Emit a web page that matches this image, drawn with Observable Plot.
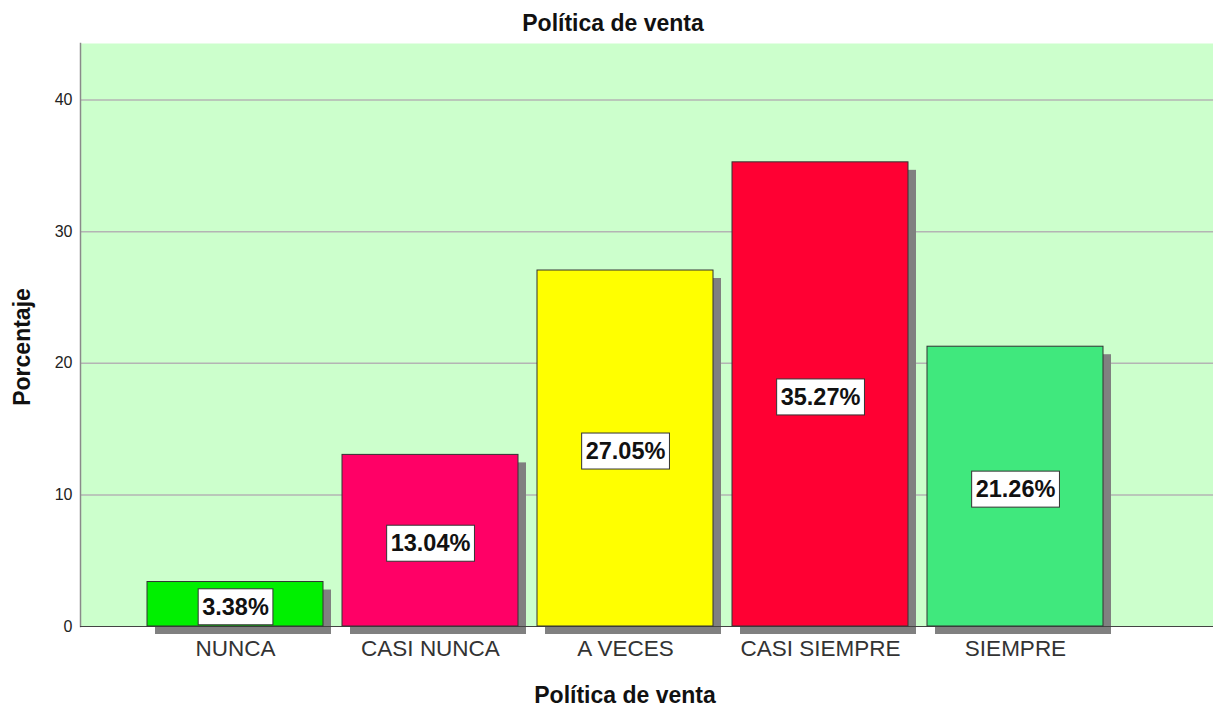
<!DOCTYPE html>
<html>
<head>
<meta charset="utf-8">
<script src="https://cdn.jsdelivr.net/npm/d3@7"></script>
<script src="https://cdn.jsdelivr.net/npm/@observablehq/plot@0.6"></script>
<style>
  html, body { margin: 0; padding: 0; background: #fff; }
</style>
</head>
<body>
<div id="chart"></div>
<script>
const categories = ["NUNCA", "CASI NUNCA", "A VECES", "CASI SIEMPRE", "SIEMPRE"];
const values = [3.38, 13.04, 27.05, 35.27, 21.26];
const valueLabels = ["3.38%", "13.04%", "27.05%", "35.27%", "21.26%"];
const barColors = ["#00f000", "#ff0066", "#ffff00", "#ff0033", "#40e87d"];
const yTicks = [0, 10, 20, 30, 40];
const titleText = "Política de venta";
const xTitle = "Política de venta";
const yTitle = "Porcentaje";

const data = categories.map((c, i) => ({cat: c, value: values[i], label: valueLabels[i]}));

const font = "'Liberation Sans', Arial, sans-serif";

const chart = Plot.plot({
  width: 1213,
  height: 708,
  marginLeft: 80,
  marginRight: 0,
  marginTop: 43,
  marginBottom: 82,
  style: {fontFamily: font, background: "#fff", overflow: "visible"},
  x: {domain: categories, range: [125.4, 1123.7], padding: 0.1, axis: null},
  y: {domain: [0, 44.3], axis: null},
  color: {domain: categories, range: barColors},
  marks: [
    Plot.frame({fill: "#ccffcc", stroke: null}),
    Plot.ruleY(yTicks.slice(1), {stroke: "#b4b4b4", strokeWidth: 1.5}),
    Plot.frame({anchor: "left", stroke: "#8a8a8a", strokeWidth: 1.5}),
    Plot.barY(data, {x: "cat", y: "value", fill: "#808080", dx: 8, dy: 8}),
    Plot.ruleY([0], {stroke: "#444", strokeWidth: 1.2}),
    Plot.barY(data, {x: "cat", y: "value", fill: "cat", stroke: "#333", strokeWidth: 1}),
    Plot.text(data, {x: "cat", y: d => d.value / 2, text: "label", fontSize: 23.5, fontWeight: "bold", fill: "#111", dy: 3}),
    Plot.axisX({fontSize: 22.5, tickSize: 0, tickPadding: 14, fill: "#333", label: null}),
    Plot.axisY({ticks: yTicks, fontSize: 16, tickSize: 0, tickPadding: 8, fill: "#222", label: null}),
    Plot.text([titleText], {frameAnchor: "top", textAnchor: "middle", dx: -34, dy: -29, fontSize: 23, fontWeight: "bold", fill: "#111"}),
    Plot.text([xTitle], {frameAnchor: "bottom", textAnchor: "middle", dx: -22, dy: 76, fontSize: 23, fontWeight: "bold", fill: "#111"}),
    Plot.text([yTitle], {frameAnchor: "left", textAnchor: "middle", rotate: -90, dx: -58, dy: 12, fontSize: 23, fontWeight: "bold", fill: "#111"})
  ]
});

document.getElementById("chart").appendChild(chart);

// white boxes behind percentage labels
chart.querySelectorAll("text").forEach(t => {
  if (!valueLabels.includes(t.textContent)) return;
  const bb = t.getBBox();
  const r = document.createElementNS("http://www.w3.org/2000/svg", "rect");
  r.setAttribute("x", bb.x - 4);
  r.setAttribute("y", bb.y - 5);
  r.setAttribute("width", bb.width + 8);
  r.setAttribute("height", bb.height + 10);
  r.setAttribute("fill", "#fff");
  r.setAttribute("stroke", "#333");
  r.setAttribute("stroke-width", "1");
  const tr = t.getAttribute("transform");
  if (tr) r.setAttribute("transform", tr);
  t.parentNode.insertBefore(r, t);
});
</script>
</body>
</html>
